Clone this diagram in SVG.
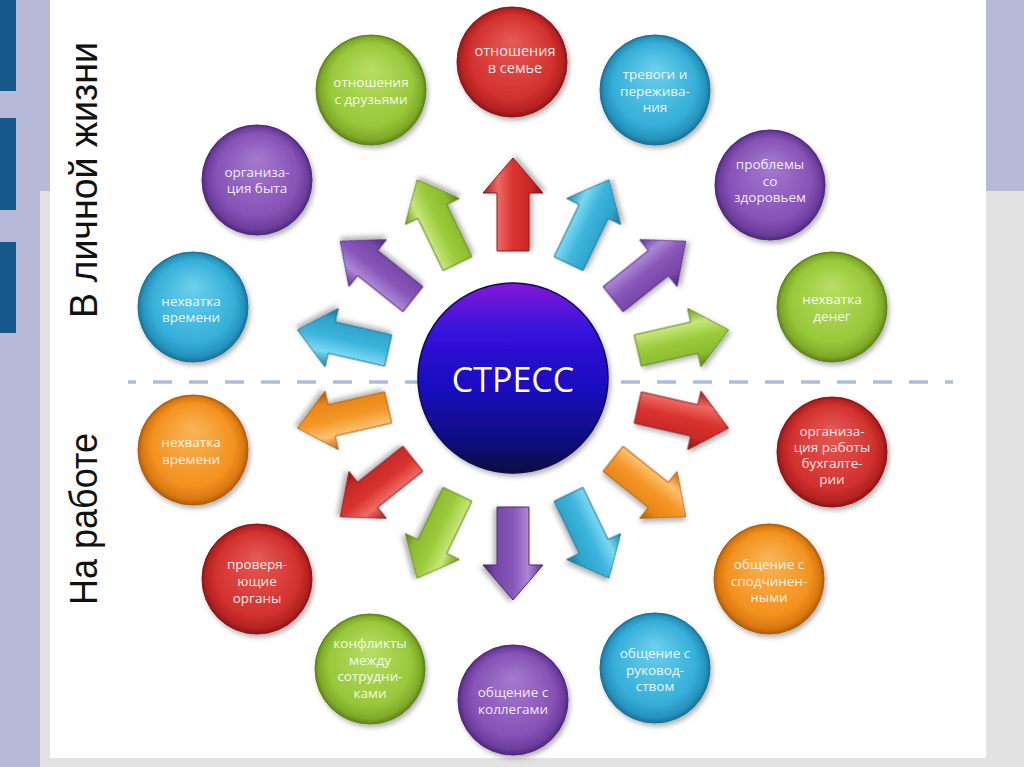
<svg xmlns="http://www.w3.org/2000/svg" width="1024" height="767" viewBox="0 0 1024 767">
<style>
.t{font-family:"Open Sans","Liberation Sans",sans-serif;font-size:13.5px;fill:#ffffff;fill-opacity:0.9;text-anchor:middle}
.side{font-family:"Liberation Sans","Open Sans",sans-serif;font-size:38px;fill:#111;text-anchor:middle}
.arr{stroke-width:1;stroke-linejoin:round;filter:url(#sh)}
.c{filter:url(#sh)}
</style>
<defs>
<filter id="sh" x="-30%" y="-30%" width="160%" height="160%">
<feDropShadow dx="2" dy="3" stdDeviation="2.5" flood-color="#000" flood-opacity="0.3"/>
</filter>
<radialGradient id="gRed" cx="0.5" cy="0.5" r="0.5" fx="0.5" fy="0.3">
<stop offset="0" stop-color="#e65a55"/><stop offset="0.75" stop-color="#d3322f"/><stop offset="0.93" stop-color="#b42222"/><stop offset="1" stop-color="#8e1616"/>
</radialGradient>
<radialGradient id="gCyan" cx="0.5" cy="0.5" r="0.5" fx="0.5" fy="0.3">
<stop offset="0" stop-color="#6cd0ee"/><stop offset="0.75" stop-color="#36afd8"/><stop offset="0.93" stop-color="#2592bc"/><stop offset="1" stop-color="#1a7298"/>
</radialGradient>
<radialGradient id="gPurple" cx="0.5" cy="0.5" r="0.5" fx="0.5" fy="0.3">
<stop offset="0" stop-color="#a67ad0"/><stop offset="0.75" stop-color="#8652b6"/><stop offset="0.93" stop-color="#6c3c9c"/><stop offset="1" stop-color="#52287c"/>
</radialGradient>
<radialGradient id="gGreen" cx="0.5" cy="0.5" r="0.5" fx="0.5" fy="0.3">
<stop offset="0" stop-color="#b8de64"/><stop offset="0.75" stop-color="#98c83a"/><stop offset="0.93" stop-color="#7eaa28"/><stop offset="1" stop-color="#5e8418"/>
</radialGradient>
<radialGradient id="gOrange" cx="0.5" cy="0.5" r="0.5" fx="0.5" fy="0.3">
<stop offset="0" stop-color="#fab458"/><stop offset="0.75" stop-color="#f3921f"/><stop offset="0.93" stop-color="#d87810"/><stop offset="1" stop-color="#b05c08"/>
</radialGradient>
<linearGradient id="gCenter" x1="0" y1="0" x2="0" y2="1">
<stop offset="0" stop-color="#8418d8"/><stop offset="0.25" stop-color="#3512da"/><stop offset="0.55" stop-color="#1a0fc0"/><stop offset="0.85" stop-color="#0e0a7a"/><stop offset="1" stop-color="#070740"/>
</linearGradient>
<linearGradient id="aRed" gradientUnits="userSpaceOnUse" x1="0" y1="-30" x2="0" y2="30">
<stop offset="0" stop-color="#a81c1c"/><stop offset="0.25" stop-color="#ee6a64"/><stop offset="0.5" stop-color="#d9332f"/><stop offset="0.8" stop-color="#c82828"/><stop offset="1" stop-color="#8e1414"/>
</linearGradient>
<linearGradient id="aCyan" gradientUnits="userSpaceOnUse" x1="0" y1="-30" x2="0" y2="30">
<stop offset="0" stop-color="#1e86ae"/><stop offset="0.25" stop-color="#7ad8f2"/><stop offset="0.5" stop-color="#3cb4dc"/><stop offset="0.8" stop-color="#2ea2ca"/><stop offset="1" stop-color="#1a7096"/>
</linearGradient>
<linearGradient id="aPurple" gradientUnits="userSpaceOnUse" x1="0" y1="-30" x2="0" y2="30">
<stop offset="0" stop-color="#5e3290"/><stop offset="0.25" stop-color="#ad86d6"/><stop offset="0.5" stop-color="#8756b8"/><stop offset="0.8" stop-color="#7646a8"/><stop offset="1" stop-color="#4c2474"/>
</linearGradient>
<linearGradient id="aGreen" gradientUnits="userSpaceOnUse" x1="0" y1="-30" x2="0" y2="30">
<stop offset="0" stop-color="#6e9a1e"/><stop offset="0.25" stop-color="#c6e67a"/><stop offset="0.5" stop-color="#9ccc3c"/><stop offset="0.8" stop-color="#8aba30"/><stop offset="1" stop-color="#5a8014"/>
</linearGradient>
<linearGradient id="aOrange" gradientUnits="userSpaceOnUse" x1="0" y1="-30" x2="0" y2="30">
<stop offset="0" stop-color="#c86a0a"/><stop offset="0.25" stop-color="#fcc070"/><stop offset="0.5" stop-color="#f59626"/><stop offset="0.8" stop-color="#e8861a"/><stop offset="1" stop-color="#a85806"/>
</linearGradient>
</defs>

<!-- background -->
<rect x="0" y="0" width="1024" height="767" fill="#e2e2e2"/>
<rect x="0" y="0" width="40" height="767" fill="#b6bad6"/>
<rect x="0" y="0" width="50" height="191" fill="#b6bad6"/>
<rect x="986" y="0" width="38" height="191" fill="#b6bad6"/>
<rect x="50" y="0" width="936" height="758" fill="#ffffff"/>
<rect x="0" y="0" width="16" height="91" fill="#17588a"/>
<rect x="0" y="118" width="16" height="92" fill="#17588a"/>
<rect x="0" y="242" width="16" height="91" fill="#17588a"/>

<!-- side labels -->
<text class="side" transform="translate(97 180) rotate(-90)" textLength="276" lengthAdjust="spacingAndGlyphs">В личной жизни</text>
<text class="side" transform="translate(97 519) rotate(-90)" textLength="172" lengthAdjust="spacingAndGlyphs">На работе</text>

<!-- dashed divider -->
<line x1="128" y1="382" x2="953" y2="382" stroke="#a9bedc" stroke-width="3.5" stroke-dasharray="19 17" stroke-dashoffset="11"/>

<!-- connectors -->
<g id="connectors">
<path class="arr" d="M0,-16 L58,-16 L58,-30 L93,0 L58,30 L58,16 L0,16 Z" fill="url(#aRed)" stroke="#8e1616" transform="translate(513 379) rotate(-90) translate(128 0)"/>
<path class="arr" d="M0,-16 L58,-16 L58,-30 L93,0 L58,30 L58,16 L0,16 Z" fill="url(#aCyan)" stroke="#1a7298" transform="translate(513 379) rotate(-64.29) translate(128 0)"/>
<path class="arr" d="M0,-16 L58,-16 L58,-30 L93,0 L58,30 L58,16 L0,16 Z" fill="url(#aPurple)" stroke="#52287c" transform="translate(513 379) rotate(-38.57) translate(128 0)"/>
<path class="arr" d="M0,-16 L58,-16 L58,-30 L93,0 L58,30 L58,16 L0,16 Z" fill="url(#aGreen)" stroke="#5e8418" transform="translate(513 379) rotate(-12.86) translate(128 0)"/>
<path class="arr" d="M0,-16 L58,-16 L58,-30 L93,0 L58,30 L58,16 L0,16 Z" fill="url(#aRed)" stroke="#8e1616" transform="translate(513 379) rotate(12.86) translate(128 0)"/>
<path class="arr" d="M0,-16 L58,-16 L58,-30 L93,0 L58,30 L58,16 L0,16 Z" fill="url(#aOrange)" stroke="#b05c08" transform="translate(513 379) rotate(38.57) translate(128 0)"/>
<path class="arr" d="M0,-16 L58,-16 L58,-30 L93,0 L58,30 L58,16 L0,16 Z" fill="url(#aCyan)" stroke="#1a7298" transform="translate(513 379) rotate(64.29) translate(128 0)"/>
<path class="arr" d="M0,-16 L58,-16 L58,-30 L93,0 L58,30 L58,16 L0,16 Z" fill="url(#aPurple)" stroke="#52287c" transform="translate(513 379) rotate(90) translate(128 0)"/>
<path class="arr" d="M0,-16 L58,-16 L58,-30 L93,0 L58,30 L58,16 L0,16 Z" fill="url(#aGreen)" stroke="#5e8418" transform="translate(513 379) rotate(115.71) translate(128 0)"/>
<path class="arr" d="M0,-16 L58,-16 L58,-30 L93,0 L58,30 L58,16 L0,16 Z" fill="url(#aRed)" stroke="#8e1616" transform="translate(513 379) rotate(141.43) translate(128 0)"/>
<path class="arr" d="M0,-16 L58,-16 L58,-30 L93,0 L58,30 L58,16 L0,16 Z" fill="url(#aOrange)" stroke="#b05c08" transform="translate(513 379) rotate(167.14) translate(128 0)"/>
<path class="arr" d="M0,-16 L58,-16 L58,-30 L93,0 L58,30 L58,16 L0,16 Z" fill="url(#aCyan)" stroke="#1a7298" transform="translate(513 379) rotate(192.86) translate(128 0)"/>
<path class="arr" d="M0,-16 L58,-16 L58,-30 L93,0 L58,30 L58,16 L0,16 Z" fill="url(#aPurple)" stroke="#52287c" transform="translate(513 379) rotate(218.57) translate(128 0)"/>
<path class="arr" d="M0,-16 L58,-16 L58,-30 L93,0 L58,30 L58,16 L0,16 Z" fill="url(#aGreen)" stroke="#5e8418" transform="translate(513 379) rotate(244.29) translate(128 0)"/>
</g>

<!-- center -->
<g id="stress">
<circle class="c" cx="513" cy="378" r="95" fill="url(#gCenter)" stroke="#0a0850" stroke-width="1.5"/>
<text x="513" y="392" style="font-family:'Open Sans','Liberation Sans',sans-serif;font-size:34px;fill:#ffffff;text-anchor:middle">СТРЕСС</text>
</g>

<!-- nodes -->
<g id="n-family">
<circle class="c" cx="512" cy="62" r="55" fill="url(#gRed)" stroke="#8e1616"/>
<text class="t" style="font-size:14.5px" x="515" y="56">отношения</text>
<text class="t" style="font-size:14.5px" x="515" y="73">в семье</text>
</g>
<g id="n-anxiety">
<circle class="c" cx="655" cy="90" r="55" fill="url(#gCyan)" stroke="#1a7298"/>
<text class="t" x="655" y="79">тревоги и</text>
<text class="t" x="655" y="96">пережива-</text>
<text class="t" x="655" y="112">ния</text>
</g>
<g id="n-health">
<circle class="c" cx="770" cy="185" r="55" fill="url(#gPurple)" stroke="#52287c"/>
<text class="t" x="770" y="169">проблемы</text>
<text class="t" x="770" y="186">со</text>
<text class="t" x="770" y="202">здоровьем</text>
</g>
<g id="n-money">
<circle class="c" cx="832" cy="307" r="55" fill="url(#gGreen)" stroke="#5e8418"/>
<text class="t" x="832" y="304">нехватка</text>
<text class="t" x="832" y="321">денег</text>
</g>
<g id="n-accounting">
<circle class="c" cx="832" cy="452" r="55" fill="url(#gRed)" stroke="#8e1616"/>
<text class="t" x="832" y="436">организа-</text>
<text class="t" x="832" y="452">ция работы</text>
<text class="t" x="832" y="468">бухгалте-</text>
<text class="t" x="832" y="484">рии</text>
</g>
<g id="n-subordinates">
<circle class="c" cx="769" cy="579" r="55" fill="url(#gOrange)" stroke="#b05c08"/>
<text class="t" x="769" y="569">общение с</text>
<text class="t" x="769" y="586">сподчинен-</text>
<text class="t" x="769" y="602">ными</text>
</g>
<g id="n-management">
<circle class="c" cx="655" cy="668" r="55" fill="url(#gCyan)" stroke="#1a7298"/>
<text class="t" x="655" y="658">общение с</text>
<text class="t" x="655" y="675">руковод-</text>
<text class="t" x="655" y="691">ством</text>
</g>
<g id="n-colleagues">
<circle class="c" cx="513" cy="700" r="55" fill="url(#gPurple)" stroke="#52287c"/>
<text class="t" x="513" y="697">общение с</text>
<text class="t" x="513" y="714">коллегами</text>
</g>
<g id="n-conflicts">
<circle class="c" cx="370" cy="669" r="55" fill="url(#gGreen)" stroke="#5e8418"/>
<text class="t" x="370" y="648">конфликты</text>
<text class="t" x="370" y="664.5">между</text>
<text class="t" x="370" y="681">сотрудни-</text>
<text class="t" x="370" y="697.5">ками</text>
</g>
<g id="n-inspections">
<circle class="c" cx="257" cy="579" r="55" fill="url(#gRed)" stroke="#8e1616"/>
<text class="t" x="257" y="569">проверя-</text>
<text class="t" x="257" y="586">ющие</text>
<text class="t" x="257" y="603">органы</text>
</g>
<g id="n-time-work">
<circle class="c" cx="193" cy="450" r="55" fill="url(#gOrange)" stroke="#b05c08"/>
<text class="t" x="191" y="447">нехватка</text>
<text class="t" x="191" y="464">времени</text>
</g>
<g id="n-time-life">
<circle class="c" cx="193" cy="307" r="55" fill="url(#gCyan)" stroke="#1a7298"/>
<text class="t" x="191" y="306">нехватка</text>
<text class="t" x="191" y="322">времени</text>
</g>
<g id="n-household">
<circle class="c" cx="257" cy="180" r="55" fill="url(#gPurple)" stroke="#52287c"/>
<text class="t" x="257" y="177">организа-</text>
<text class="t" x="257" y="193">ция быта</text>
</g>
<g id="n-friends">
<circle class="c" cx="371" cy="90" r="55" fill="url(#gGreen)" stroke="#5e8418"/>
<text class="t" x="371" y="87">отношения</text>
<text class="t" x="371" y="104">с друзьями</text>
</g>
</svg>
